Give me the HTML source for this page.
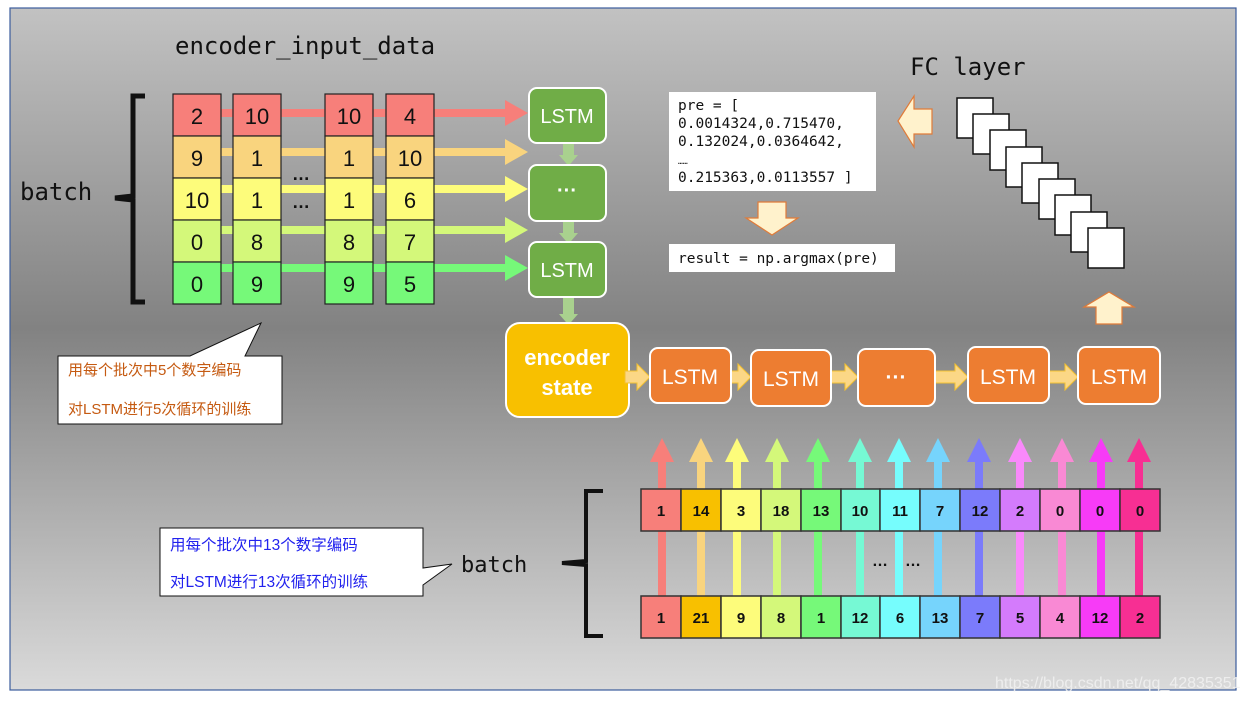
<!DOCTYPE html>
<html><head><meta charset="utf-8"><style>
html,body{margin:0;padding:0;background:#fff;}
svg{display:block;}
.mono{font-family:"DejaVu Sans Mono","Liberation Mono",monospace;}
.sans{font-family:"Liberation Sans","DejaVu Sans",sans-serif;}
.cjk{font-family:"Liberation Sans","Noto Sans CJK SC",sans-serif;}
</style></head><body>
<svg width="1246" height="701" viewBox="0 0 1246 701" xmlns="http://www.w3.org/2000/svg">
<defs>
<linearGradient id="bg" x1="0" y1="0" x2="0" y2="1">
<stop offset="0" stop-color="#c2c2c2"/><stop offset="0.47" stop-color="#828282"/><stop offset="1" stop-color="#dadada"/>
</linearGradient>
</defs>
<rect x="0" y="0" width="1246" height="701" fill="#fff"/>
<rect x="10" y="8" width="1226" height="682" fill="url(#bg)" stroke="#3b5c9c" stroke-width="1.2"/>

<text x="175" y="54" class="mono" font-size="24" fill="#111">encoder_input_data</text>
<text x="20" y="200" class="mono" font-size="24" fill="#111">batch</text>
<path d="M145 96 H133 V196 L115 198 L133 200 V302 H145" fill="none" stroke="#111" stroke-width="5"/>

<g>
<rect x="213" y="109" width="295" height="8" fill="#f77f7a"/><polygon points="505,100 528,113 505,126" fill="#f77f7a"/>
<rect x="213" y="148" width="295" height="8" fill="#f9d47e"/><polygon points="505,139 528,152 505,165" fill="#f9d47e"/>
<rect x="213" y="185" width="295" height="8" fill="#fdfc7b"/><polygon points="505,176 528,189 505,202" fill="#fdfc7b"/>
<rect x="213" y="226" width="295" height="8" fill="#d4f87a"/><polygon points="505,217 528,230 505,243" fill="#d4f87a"/>
<rect x="213" y="264" width="295" height="8" fill="#76f979"/><polygon points="505,255 528,268 505,281" fill="#76f979"/>
</g>
<g stroke="#222" stroke-width="1.2">
<g id="c1">
<rect x="173" y="94" width="48" height="42" fill="#f77f7a"/>
<rect x="173" y="136" width="48" height="42" fill="#f9d47e"/>
<rect x="173" y="178" width="48" height="42" fill="#fdfc7b"/>
<rect x="173" y="220" width="48" height="42" fill="#d4f87a"/>
<rect x="173" y="262" width="48" height="42" fill="#76f979"/>
</g>
<use href="#c1" x="60"/><use href="#c1" x="152"/><use href="#c1" x="213"/>
</g>
<g class="sans" font-size="22" fill="#111" text-anchor="middle">
<text x="197" y="124">2</text><text x="197" y="166">9</text><text x="197" y="208">10</text><text x="197" y="250">0</text><text x="197" y="292">0</text>
<text x="257" y="124">10</text><text x="257" y="166">1</text><text x="257" y="208">1</text><text x="257" y="250">8</text><text x="257" y="292">9</text>
<text x="349" y="124">10</text><text x="349" y="166">1</text><text x="349" y="208">1</text><text x="349" y="250">8</text><text x="349" y="292">9</text>
<text x="410" y="124">4</text><text x="410" y="166">10</text><text x="410" y="208">6</text><text x="410" y="250">7</text><text x="410" y="292">5</text>
<text x="301" y="180" font-weight="bold" font-size="18">…</text>
<text x="301" y="208" font-weight="bold" font-size="18">…</text>
</g>

<g fill="#a9d18e">
<rect x="563" y="143" width="11" height="12"/><polygon points="559,155 578,155 568.5,166"/>
<rect x="563" y="221" width="11" height="12"/><polygon points="559,233 578,233 568.5,244"/>
<rect x="563" y="298" width="11" height="16"/><polygon points="559,314 578,314 568.5,325"/>
</g>
<g fill="#70ad47" stroke="#fff" stroke-width="2">
<rect x="529" y="88" width="77" height="55" rx="8"/>
<rect x="529" y="165" width="77" height="56" rx="8"/>
<rect x="529" y="242" width="77" height="55" rx="8"/>
</g>
<g class="sans" font-size="20" fill="#fff" text-anchor="middle">
<text x="567" y="123">LSTM</text><text x="567" y="197" font-weight="bold">···</text><text x="567" y="277">LSTM</text>
</g>

<rect x="506" y="323" width="123" height="94" rx="14" fill="#f8c000" stroke="#fff" stroke-width="2"/>
<text x="567" y="365" class="sans" font-size="22" font-weight="bold" fill="#fff" text-anchor="middle">encoder</text>
<text x="567" y="395" class="sans" font-size="22" font-weight="bold" fill="#fff" text-anchor="middle">state</text>

<g fill="#fbd786" stroke="#f3c030" stroke-width="1">
<polygon points="625,371 637,371 637,364 650,377 637,390 637,383 625,383"/>
<polygon points="726,371 738,371 738,364 751,377 738,390 738,383 726,383"/>
<polygon points="831,371 845,371 845,364 858,377 845,390 845,383 831,383"/>
<polygon points="934,371 955,371 955,364 968,377 955,390 955,383 934,383"/>
<polygon points="1045,371 1065,371 1065,364 1078,377 1065,390 1065,383 1045,383"/>
</g>
<g fill="#ed7d31" stroke="#fff" stroke-width="2">
<rect x="650" y="348" width="81" height="55" rx="8"/>
<rect x="751" y="350" width="80" height="56" rx="8"/>
<rect x="858" y="349" width="77" height="57" rx="8"/>
<rect x="968" y="347" width="81" height="56" rx="8"/>
<rect x="1078" y="347" width="82" height="57" rx="8"/>
</g>
<g class="sans" font-size="21" fill="#fff" text-anchor="middle">
<text x="690" y="384">LSTM</text><text x="791" y="386">LSTM</text><text x="896" y="384" font-weight="bold">···</text><text x="1008" y="384">LSTM</text><text x="1119" y="384">LSTM</text>
</g>

<text x="910" y="75" class="mono" font-size="24" fill="#111">FC layer</text>
<g fill="#fff" stroke="#111" stroke-width="1.5">
<rect x="957" y="98" width="36" height="40"/>
<rect x="973" y="114" width="36" height="40"/>
<rect x="990" y="130" width="36" height="40"/>
<rect x="1006" y="147" width="36" height="40"/>
<rect x="1022" y="163" width="36" height="40"/>
<rect x="1039" y="179" width="36" height="40"/>
<rect x="1055" y="195" width="36" height="40"/>
<rect x="1071" y="212" width="36" height="40"/>
<rect x="1088" y="228" width="36" height="40"/>
</g>
<g fill="#fff2cc" stroke="#e07b39" stroke-width="1.2">
<polygon points="898,121 914,96 914,109 932,109 932,134 914,134 914,147"/>
<polygon points="758,202 786,202 786,218 798,218 772,235 746,218 758,218"/>
<polygon points="1096,324 1122,324 1122,307 1134,307 1109,292 1084,307 1096,307"/>
</g>
<rect x="669" y="92" width="207" height="99" fill="#fff"/>
<g class="mono" font-size="14.5" fill="#111">
<text x="678" y="110">pre = [</text>
<text x="678" y="128">0.0014324,0.715470,</text>
<text x="678" y="146">0.132024,0.0364642,</text>
<text x="678" y="164" font-size="8">……</text>
<text x="678" y="182">0.215363,0.0113557 ]</text>
</g>
<rect x="669" y="244" width="226" height="28" fill="#fff"/>
<text x="678" y="263" class="mono" font-size="14.5" fill="#111">result = np.argmax(pre)</text>

<polygon points="58,356 190,356 261,323 245,356 282,356 282,424 58,424" fill="#fff" stroke="#111" stroke-width="1"/>
<text x="68" y="375" class="cjk" font-size="15" fill="#c55a11">用每个批次中5个数字编码</text>
<text x="68" y="414" class="cjk" font-size="15" fill="#c55a11">对LSTM进行5次循环的训练</text>

<polygon points="160,528 423,528 423,568 452,564 423,585 423,596 160,596" fill="#fff" stroke="#111" stroke-width="1"/>
<text x="170" y="550" class="cjk" font-size="15.5" fill="#2222ee">用每个批次中13个数字编码</text>
<text x="170" y="587" class="cjk" font-size="15.5" fill="#2222ee">对LSTM进行13次循环的训练</text>
<text x="461" y="572" class="mono" font-size="22" fill="#111">batch</text>
<path d="M603 491 H586 V561 L562 563 L586 565 V636 H603" fill="none" stroke="#111" stroke-width="4"/>

<g>
<g fill="#f77f7a"><rect x="658" y="461" width="8" height="136"/><polygon points="650,462 674,462 662,438"/></g>
<g fill="#f9d47e"><rect x="697" y="461" width="8" height="136"/><polygon points="689,462 713,462 701,438"/></g>
<g fill="#fdfc7b"><rect x="733" y="461" width="8" height="136"/><polygon points="725,462 749,462 737,438"/></g>
<g fill="#d4f87a"><rect x="773" y="461" width="8" height="136"/><polygon points="765,462 789,462 777,438"/></g>
<g fill="#76f979"><rect x="814" y="461" width="8" height="136"/><polygon points="806,462 830,462 818,438"/></g>
<g fill="#76f9d4"><rect x="856" y="461" width="8" height="136"/><polygon points="848,462 872,462 860,438"/></g>
<g fill="#76fdfd"><rect x="895" y="461" width="8" height="136"/><polygon points="887,462 911,462 899,438"/></g>
<g fill="#76d4fc"><rect x="934" y="461" width="8" height="136"/><polygon points="926,462 950,462 938,438"/></g>
<g fill="#7b7bfb"><rect x="975" y="461" width="8" height="136"/><polygon points="967,462 991,462 979,438"/></g>
<g fill="#f989fb"><rect x="1016" y="461" width="8" height="136"/><polygon points="1008,462 1032,462 1020,438"/></g>
<g fill="#f989d4"><rect x="1058" y="461" width="8" height="136"/><polygon points="1050,462 1074,462 1062,438"/></g>
<g fill="#f73bf7"><rect x="1097" y="461" width="8" height="136"/><polygon points="1089,462 1113,462 1101,438"/></g>
<g fill="#f72f93"><rect x="1135" y="461" width="8" height="136"/><polygon points="1127,462 1151,462 1139,438"/></g>
</g>
<g stroke="#333" stroke-width="1.5">
<g id="row">
<rect x="641" y="489" width="40" height="42" fill="#f77f7a"/>
<rect x="681" y="489" width="40" height="42" fill="#f8c000"/>
<rect x="721" y="489" width="40" height="42" fill="#fdfc7b"/>
<rect x="761" y="489" width="40" height="42" fill="#d4f87a"/>
<rect x="801" y="489" width="40" height="42" fill="#76f979"/>
<rect x="841" y="489" width="39" height="42" fill="#76f9d4"/>
<rect x="880" y="489" width="40" height="42" fill="#76fdfd"/>
<rect x="920" y="489" width="40" height="42" fill="#76d4fc"/>
<rect x="960" y="489" width="40" height="42" fill="#7b7bfb"/>
<rect x="1000" y="489" width="40" height="42" fill="#d47bfc"/>
<rect x="1040" y="489" width="40" height="42" fill="#f989d4"/>
<rect x="1080" y="489" width="40" height="42" fill="#f73bf7"/>
<rect x="1120" y="489" width="40" height="42" fill="#f72f93"/>
</g>
<use href="#row" y="107"/>
</g>
<g class="sans" font-size="15" font-weight="bold" fill="#111" text-anchor="middle">
<text x="661" y="516">1</text><text x="701" y="516">14</text><text x="741" y="516">3</text><text x="781" y="516">18</text><text x="821" y="516">13</text><text x="860" y="516">10</text><text x="900" y="516">11</text><text x="940" y="516">7</text><text x="980" y="516">12</text><text x="1020" y="516">2</text><text x="1060" y="516">0</text><text x="1100" y="516">0</text><text x="1140" y="516">0</text>
<text x="661" y="623">1</text><text x="701" y="623">21</text><text x="741" y="623">9</text><text x="781" y="623">8</text><text x="821" y="623">1</text><text x="860" y="623">12</text><text x="900" y="623">6</text><text x="940" y="623">13</text><text x="980" y="623">7</text><text x="1020" y="623">5</text><text x="1060" y="623">4</text><text x="1100" y="623">12</text><text x="1140" y="623">2</text>
<text x="880" y="566" font-size="16">…</text><text x="913" y="566" font-size="16">…</text>
</g>
<text x="995" y="688" class="sans" font-size="16" fill="#f2f2f2" opacity="0.85">https://blog.csdn.net/qq_42835351</text>
</svg>
</body></html>
